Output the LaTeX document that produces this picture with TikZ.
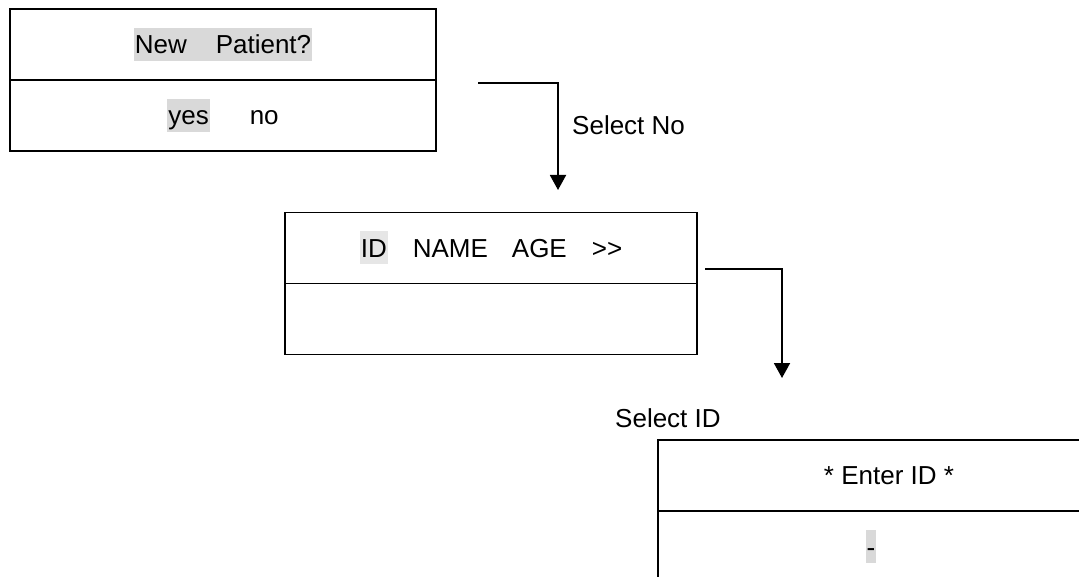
\documentclass[tikz,border=0pt]{standalone}
\usepackage{fontspec}
\setmainfont{Liberation Sans}
\usepackage{xcolor}
\usetikzlibrary{positioning,arrows.meta}
\definecolor{hlgray}{RGB}{217,217,217}
\definecolor{hlgraylight}{RGB}{230,230,230}
\setlength{\fboxsep}{1pt}
\newcommand{\hilite}[2][hlgray]{\colorbox{#1}{\rule[-6pt]{0pt}{31pt}#2}}

\begin{document}
\begin{tikzpicture}[x=1pt, y=-1pt,
    screen/.style={draw, line width=1.9pt, inner sep=0pt, outer sep=0pt, minimum height=71pt, font=\fontsize{26}{31}\selectfont},
    flow/.style={line width=1.9pt, -{Triangle[width=16pt,length=15pt]}},
    lbl/.style={anchor=west, inner sep=0pt, font=\fontsize{26}{31}\selectfont}]
    \useasboundingbox (0,0) rectangle (1079,577);
    \clip (0,0) rectangle (1079,577);

    % first screen
    \node[screen, minimum width=426pt] (newq) at (223,44.5) {\hilite{New\hspace{29pt}Patient?}};
    \node[screen, minimum width=426pt, below=0pt of newq] (newa) {\hilite{yes}\hspace{40pt}no};

    % second screen
    \node[screen, minimum width=412pt] (listq) at (491,248) {\hilite[hlgraylight]{ID}\hspace{25pt}NAME\hspace{24pt}AGE\hspace{25pt}>\kern0pt>};
    \node[screen, minimum width=412pt, below=0pt of listq] (lista) {};

    % third screen (runs off the page)
    \node[screen, minimum width=462pt] (idq) at (889,475.5) {* Enter ID *};
    \node[screen, minimum width=462pt, below=0pt of idq] (ida) {\hilite{-}\kern36pt};

    % arrows
    \coordinate (nofrom) at (478,83);
    \coordinate (noto) at (558,190);
    \draw[flow] (nofrom) -| (noto);
    \node[lbl] (selno) at (572,125) {Select No};

    \coordinate (idfrom) at (705,269);
    \coordinate (idto) at (782,378);
    \draw[flow] (idfrom) -| (idto);
    \node[lbl] (selid) at (615,418) {Select ID};
\end{tikzpicture}
\end{document}
